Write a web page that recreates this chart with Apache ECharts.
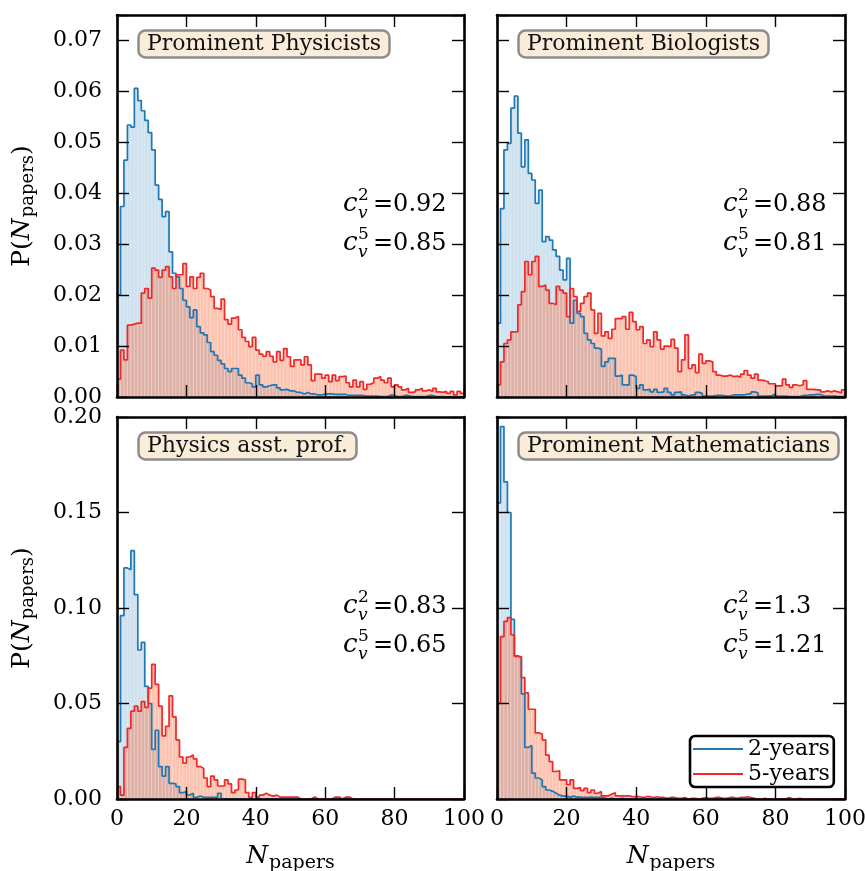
<!DOCTYPE html>
<html><head><meta charset="utf-8">
<script src="https://cdn.jsdelivr.net/npm/echarts@6/dist/echarts.min.js"></script>
<style>html,body{margin:0;padding:0;background:#fff}#c{width:865px;height:871px}</style>
</head><body><div id="c"></div>
<script>
// ---- data: probability per 1-paper bin, N = 0..99 ----
const physicists2y = [0.020,0.0374,0.0465,0.0534,0.0530,0.0606,0.0582,0.0562,0.0543,0.0519,
0.0485,0.0416,0.0388,0.0354,0.0364,0.0285,0.0243,0.0236,0.0213,0.0190,
0.0177,0.0156,0.0171,0.0138,0.0126,0.0122,0.0107,0.0089,0.0082,0.0072,
0.0065,0.0056,0.0050,0.0056,0.0056,0.0043,0.0037,0.0028,0.0026,0.0020,
0.0043,0.0024,0.0020,0.0022,0.0024,0.0024,0.0018,0.0014,0.0015,0.0012,
0.0012,0.0009,0.0009,0.0006,0.0009,0.0006,0.0006,0.0004,0.0004,0.0006,
0.0006,0.0006,0.0005,0.0005,0.0005,0.0005,0.0003,0.0003,0.0003,0.0003,
0.0003,0.0002,0.0002,0.0002,0.0002,0.0001,0.0001,0.0001,0.0004,0.0003,
0.0001,0.0001,0.0003,0.0003,0.0001,0.0001,0.0001,0.0001,0.0001,0.0003,
0.0003,0.0001,0.0001,0.0001,0.0000,0.0001,0.0000,0.0000,0.0001,0.0000];
const physicists5y = [0.0035,0.0092,0.0073,0.0141,0.0143,0.0145,0.0145,0.0204,0.0213,0.0194,
0.0253,0.0249,0.0235,0.0249,0.0256,0.0236,0.0213,0.0240,0.0240,0.0262,
0.0217,0.0236,0.0213,0.0235,0.0243,0.0213,0.0210,0.0197,0.0174,0.0172,
0.0192,0.0152,0.0143,0.0155,0.0158,0.0132,0.0117,0.0109,0.0099,0.0117,
0.0092,0.0084,0.0080,0.0089,0.0080,0.0069,0.0089,0.0072,0.0095,0.0079,
0.0060,0.0073,0.0073,0.0063,0.0079,0.0063,0.0032,0.0045,0.0045,0.0037,
0.0043,0.0030,0.0043,0.0032,0.0040,0.0041,0.0028,0.0020,0.0033,0.0020,
0.0030,0.0015,0.0025,0.0028,0.0037,0.0040,0.0033,0.0028,0.0037,0.0020,
0.0024,0.0020,0.0014,0.0017,0.0009,0.0010,0.0014,0.0017,0.0012,0.0014,
0.0011,0.0017,0.0010,0.0009,0.0011,0.0007,0.0011,0.0004,0.0011,0.0007];
const biologists2y = [0.0145,0.0370,0.0485,0.0498,0.0567,0.0591,0.0518,0.0452,0.0505,0.0439,
0.0426,0.0380,0.0406,0.0305,0.0315,0.0308,0.0289,0.0276,0.0249,0.0230,
0.0272,0.0145,0.0190,0.0164,0.0158,0.0125,0.0112,0.0105,0.0096,0.0094,
0.0060,0.0069,0.0076,0.0076,0.0041,0.0043,0.0024,0.0024,0.0043,0.0040,
0.0017,0.0024,0.0014,0.0015,0.0010,0.0015,0.0009,0.0010,0.0017,0.0009,
0.0004,0.0009,0.0010,0.0004,0.0002,0.0004,0.0004,0.0009,0.0007,0.0002,
0.0002,0.0002,0.0003,0.0003,0.0003,0.0002,0.0002,0.0004,0.0004,0.0004,
0.0004,0.0006,0.0006,0.0010,0.0008,0.0002,0.0002,0.0002,0.0003,0.0006,
0.0002,0.0002,0.0002,0.0001,0.0001,0.0001,0.0001,0.0003,0.0003,0.0004,
0.0004,0.0005,0.0005,0.0002,0.0002,0.0002,0.0002,0.0001,0.0001,0.0001];
const biologists5y = [0.0024,0.0069,0.0105,0.0112,0.0128,0.0128,0.0181,0.0207,0.0266,0.0240,
0.0266,0.0276,0.0217,0.0220,0.0210,0.0184,0.0181,0.0217,0.0210,0.0204,
0.0158,0.0213,0.0197,0.0168,0.0184,0.0197,0.0204,0.0171,0.0125,0.0164,
0.0120,0.0128,0.0115,0.0133,0.0154,0.0154,0.0158,0.0133,0.0166,0.0148,
0.0132,0.0138,0.0105,0.0112,0.0099,0.0128,0.0112,0.0094,0.0100,0.0099,
0.0113,0.0096,0.0050,0.0073,0.0122,0.0056,0.0063,0.0048,0.0084,0.0066,
0.0071,0.0069,0.0050,0.0043,0.0041,0.0041,0.0043,0.0040,0.0041,0.0039,
0.0045,0.0052,0.0043,0.0037,0.0045,0.0033,0.0032,0.0030,0.0026,0.0026,
0.0022,0.0022,0.0035,0.0024,0.0019,0.0024,0.0022,0.0024,0.0032,0.0015,
0.0015,0.0014,0.0014,0.0010,0.0012,0.0010,0.0012,0.0010,0.0008,0.0014];
const asstProf2y = [0.030,0.096,0.121,0.120,0.130,0.107,0.078,0.082,0.059,0.050,
0.026,0.036,0.017,0.012,0.017,0.0082,0.0079,0.0065,0.0033,0.0039,
0.0021,0.0030,0.0009,0.0016,0.0009,0.0009,0.0009,0.0009,0.0009,0.0030,
0,0,0,0,0,0,0,0,0,0, 0,0,0,0,0,0,0,0,0,0, 0,0,0,0,0,0,0,0,0,0,
0,0,0,0,0,0,0,0,0,0, 0,0,0,0,0,0,0,0,0,0, 0,0,0,0,0,0,0,0,0,0, 0,0,0,0,0,0,0,0,0,0];
const asstProf5y = [0.0065,0.0020,0.027,0.037,0.046,0.0486,0.046,0.051,0.048,0.058,
0.0705,0.060,0.0486,0.033,0.038,0.054,0.043,0.031,0.022,0.0188,
0.022,0.023,0.021,0.017,0.016,0.011,0.0065,0.012,0.010,0.0068,
0.0068,0.010,0.0079,0.0033,0.0047,0.0104,0.0100,0.0033,0.0009,0.0033,
0.0009,0.0020,0.0030,0.0020,0.0015,0.0020,0.0010,0.0010,0.0010,0.0010,
0.0010,0.0010,0,0,0,0,0.0010,0,0,0,
0,0,0.0010,0.0010,0,0.0010,0.0010,0,0,0,
0,0,0,0,0,0,0,0,0,0, 0,0,0,0,0,0,0,0,0,0, 0,0,0,0,0,0,0,0,0,0];
const mathematicians2y = [0.155,0.195,0.166,0.150,0.094,0.075,0.074,0.055,0.027,0.028,
0.0135,0.011,0.010,0.0065,0.0047,0.0040,0.0030,0.0020,0.0015,0.0015,
0.0010,0.0015,0.0010,0.0010,0.0008,0.0008,0.0010,0.0008,0.0008,0.0010,
0.0005,0,0.0005,0,0,0.0005,0,0,0,0, 0,0,0,0,0,0,0,0,0,0,
0,0,0,0,0,0,0,0,0,0, 0,0,0,0,0,0,0,0,0,0, 0,0,0,0,0,0,0,0,0,0,
0,0,0,0,0,0,0,0,0,0, 0,0,0,0,0,0,0,0,0,0];
const mathematicians5y = [0.050,0.085,0.093,0.095,0.086,0.0746,0.0746,0.0635,0.0556,0.047,
0.047,0.0346,0.034,0.031,0.023,0.0196,0.0144,0.0148,0.010,0.010,
0.0075,0.010,0.0056,0.006,0.0044,0.0056,0.0033,0.0047,0.0030,0.0039,
0.0016,0.0016,0.0026,0.0033,0.0016,0.0016,0.0016,0.0016,0.0012,0.0012,
0.0012,0.0008,0.0012,0.0012,0.0008,0.0012,0.0008,0.0008,0.0004,0.0008,
0.0008,0.0004,0.0004,0.0008,0,0.0004,0.0004,0,0.0004,0.0008,
0.0004,0.0004,0.0008,0.0008,0.0004,0.0004,0.0008,0.0008,0.0004,0.0008,
0.0008,0.0012,0.0008,0.0004,0,0,0.0004,0,0,0,
0,0,0,0.0008,0,0,0.0004,0,0,0, 0,0,0,0,0,0,0,0,0,0];

const panelTitles = ['Prominent Physicists', 'Prominent Biologists', 'Physics asst. prof.', 'Prominent Mathematicians'];
const cv2Values = ['0.92', '0.88', '0.83', '1.3'];
const cv5Values = ['0.85', '0.81', '0.65', '1.21'];
const seriesNames = ['2-years', '5-years'];
const binWidth = 1;
const xMin = 0, xMax = 100, xInterval = 20;
const yTopMax = 0.075, yTopInterval = 0.01;
const yBottomMax = 0.20, yBottomInterval = 0.05;

const panelData = [
  [physicists2y, physicists5y],
  [biologists2y, biologists5y],
  [asstProf2y, asstProf5y],
  [mathematicians2y, mathematicians5y]
];

// ---- layout / style ----
const FONT = '"DejaVu Serif", "Liberation Serif", serif';
const BLUE = '#1f77b4', RED = '#f0282a';
const BLUE_FILL = 'rgba(31,119,180,0.22)', RED_FILL = 'rgba(244,96,48,0.38)';
const grids = [
  {left: 117, top: 15, width: 347, height: 382},
  {left: 497, top: 15, width: 348, height: 382},
  {left: 117, top: 417, width: 347, height: 382},
  {left: 497, top: 417, width: 348, height: 382}
];

function stepData(arr) {
  const d = arr.map((v, i) => [i * binWidth, v]);
  d.push([arr.length * binWidth, arr[arr.length - 1]]);
  return d;
}
function barData(arr) {
  return arr.map((v, i) => [i * binWidth, v]);
}
function barRender(color) {
  return function (params, api) {
    const x = api.value(0), v = api.value(1);
    if (!(v > 0)) return null;
    const p0 = api.coord([x, 0]);
    const p1 = api.coord([x + binWidth, v]);
    return {type: 'rect', shape: {x: p0[0], y: p1[1], width: p1[0] - p0[0], height: p0[1] - p1[1]},
      style: {fill: color, stroke: 'rgba(255,255,255,0.3)', lineWidth: 0.7}};
  };
}
function yFmt(interval) {
  return function (v) {
    const k = Math.round(v / interval);
    return Math.abs(k * interval - v) < 1e-9 ? v.toFixed(2) : '';
  };
}

const xAxes = [], yAxes = [], series = [], titles = [], graphics = [];
grids.forEach((g, i) => {
  const isBottom = i >= 2, isLeft = i % 2 === 0;
  const yMax = isBottom ? yBottomMax : yTopMax;
  const yInt = isBottom ? yBottomInterval : yTopInterval;
  const line = {show: true, onZero: false, lineStyle: {color: '#000', width: 2.6}};
  const tick = {show: true, inside: true, length: 12, lineStyle: {color: '#000', width: 1.4}};
  ['bottom', 'top'].forEach(pos => {
    xAxes.push({
      gridIndex: i, type: 'value', position: pos, min: xMin, max: xMax, interval: xInterval,
      axisLine: line, axisTick: tick, splitLine: {show: false}, z: 10,
      axisLabel: {show: pos === 'bottom' && isBottom, margin: 9, fontFamily: FONT, fontSize: 22, color: '#000',
        showMinLabel: true, showMaxLabel: true}
    });
  });
  ['left', 'right'].forEach(pos => {
    yAxes.push({
      gridIndex: i, type: 'value', position: pos, min: 0, max: yMax, interval: yInt,
      axisLine: line, axisTick: tick, splitLine: {show: false}, z: 10,
      axisLabel: {show: pos === 'left' && isLeft, margin: 15, fontFamily: FONT, fontSize: 22, color: '#000',
        formatter: yFmt(yInt), showMinLabel: true, showMaxLabel: true}
    });
  });
  const [d2, d5] = panelData[i];
  const xi = i * 2, yi = i * 2;
  [[d2, BLUE_FILL], [d5, RED_FILL]].forEach(([d, fc], k) => {
    series.push({
      name: seriesNames[k] + ' fill', type: 'custom', xAxisIndex: xi, yAxisIndex: yi,
      data: barData(d), encode: {x: 0, y: 1}, renderItem: barRender(fc), silent: true, clip: true, z: 2
    });
  });
  [[d2, BLUE], [d5, RED]].forEach(([d, c], k) => {
    series.push({
      name: seriesNames[k], type: 'line', xAxisIndex: xi, yAxisIndex: yi, step: 'end',
      data: stepData(d), symbol: 'none', silent: true, z: 3,
      lineStyle: {width: 1.7, color: c}, itemStyle: {color: c}
    });
  });
  titles.push({
    text: panelTitles[i], left: g.left + 21, top: g.top + 15,
    padding: [3, 9, 3, 9], backgroundColor: '#f9ecd8', borderColor: '#8c8c8c', borderWidth: 2.5, borderRadius: 7,
    textStyle: {fontFamily: FONT, fontSize: 22, fontWeight: 'normal', color: '#111'}
  });
  // c_v annotation
  const x0 = g.left + 226;
  [[cv2Values[i], '2', g.top + 198], [cv5Values[i], '5', g.top + 237]].forEach(([val, sup, B]) => {
    graphics.push({type: 'text', x: x0, y: B - 0.346 * 26, silent: true,
      style: {text: 'c', fontFamily: FONT, fontSize: 26, fontStyle: 'italic', fill: '#000', align: 'left', verticalAlign: 'middle'}});
    graphics.push({type: 'text', x: x0 + 15, y: B - 12 - 0.346 * 17, silent: true,
      style: {text: sup, fontFamily: FONT, fontSize: 17, fill: '#000', align: 'left', verticalAlign: 'middle'}});
    graphics.push({type: 'text', x: x0 + 15, y: B + 6 - 0.346 * 17, silent: true,
      style: {text: 'v', fontFamily: FONT, fontSize: 17, fontStyle: 'italic', fill: '#000', align: 'left', verticalAlign: 'middle'}});
    graphics.push({type: 'text', x: x0 + 30, y: B - 0.346 * 24, silent: true,
      style: {text: '=' + val, fontFamily: FONT, fontSize: 24, fill: '#000', align: 'left', verticalAlign: 'middle'}});
  });
  if (isBottom) {
    graphics.push({type: 'text', x: g.left + g.width / 2, y: 856, silent: true,
      style: {text: '{n|N}{s|papers}', align: 'center', verticalAlign: 'middle', fill: '#000',
        rich: {n: {fontFamily: FONT, fontSize: 25, fontStyle: 'italic', fill: '#000'},
               s: {fontFamily: FONT, fontSize: 19, fill: '#000', padding: [14, 0, 0, 1]}}}});
  }
  if (isLeft) {
    graphics.push({type: 'text', x: 22, y: g.top + g.height / 2, rotation: Math.PI / 2, silent: true,
      style: {text: '{p|P(}{n|N}{s|papers}{p|)}', align: 'center', verticalAlign: 'middle', fill: '#000',
        rich: {p: {fontFamily: FONT, fontSize: 25, fill: '#000'},
               n: {fontFamily: FONT, fontSize: 25, fontStyle: 'italic', fill: '#000'},
               s: {fontFamily: FONT, fontSize: 18, fill: '#000', padding: [13, 0, 0, 1]}}}});
  }
});

const chart = echarts.init(document.getElementById('c'), null, {renderer: 'canvas'});
chart.setOption({
  animation: false,
  backgroundColor: '#fff',
  grid: grids.map(g => Object.assign({containLabel: false, outerBoundsMode: 'none'}, g)),
  xAxis: xAxes,
  yAxis: yAxes,
  series: series,
  title: titles,
  legend: {
    orient: 'vertical', left: 690, top: 736, selectedMode: false,
    data: seriesNames.map(n => ({name: n, icon: 'rect'})),
    itemWidth: 50, itemHeight: 2, itemGap: 3, padding: [2, 4, 2, 3],
    borderColor: '#000', borderWidth: 2.6, borderRadius: 5, backgroundColor: '#fff',
    textStyle: {fontFamily: FONT, fontSize: 22, color: '#000'}
  },
  graphic: graphics
});
</script>
</body></html>
